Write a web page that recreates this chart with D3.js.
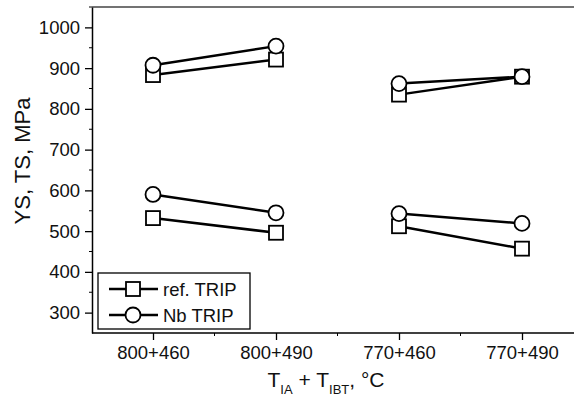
<!DOCTYPE html>
<html>
<head>
<meta charset="utf-8">
<script src="https://cdn.jsdelivr.net/npm/d3@7"></script>
<style>
  body { margin: 0; background: #fff; }
  svg { font-family: "Liberation Sans", Arial, sans-serif; }
</style>
</head>
<body>
<svg class="chart"></svg>
<script>
// data
const categories = ['800+460', '800+490', '770+460', '770+490'];
const refYS = [532, 496, 512, 457];
const refTS = [883, 921, 835, 879];
const nbYS = [590, 545, 543, 519];
const nbTS = [907, 954, 862, 879];
const yTicks = [300, 400, 500, 600, 700, 800, 900, 1000];
const yMinorTicks = [350, 450, 550, 650, 750, 850, 950, 1050];
// points are joined only inside these pairs
const pairs = [[0, 1], [2, 3]];

const svgWidth = 574;
const svgHeight = 397;
const margin = { top: 7, right: 0, bottom: 64, left: 92 };
const plotBottom = svgHeight - margin.bottom;

const svg = d3.select('.chart')
    .attr('width', svgWidth)
    .attr('height', svgHeight);

const xScale = d3.scalePoint()
    .domain(categories)
    .range([153, 522]);

const yScale = d3.scaleLinear()
    .domain([250, 1050])
    .range([plotBottom, margin.top]);

// frame: top and bottom run off the right edge, no right border
svg.append('line')
    .attr('x1', margin.left).attr('x2', svgWidth)
    .attr('y1', margin.top).attr('y2', margin.top)
    .attr('stroke', '#444').attr('stroke-width', 1.5);

// x axis
const xAxis = svg.append('g')
    .attr('transform', `translate(0, ${plotBottom})`)
    .call(d3.axisBottom(xScale).tickSizeInner(7).tickSizeOuter(0).tickPadding(6));
xAxis.select('.domain').attr('d', `M${margin.left},0H${svgWidth}`);

// minor x ticks halfway between categories
const step = xScale.step();
xAxis.selectAll('.minor')
    .data(categories.slice(0, -1))
    .join('line')
    .attr('class', 'minor')
    .attr('x1', d => xScale(d) + step / 2).attr('x2', d => xScale(d) + step / 2)
    .attr('y1', 0).attr('y2', 3)
    .attr('stroke', '#000');

// y axis
const yAxis = svg.append('g')
    .attr('transform', `translate(${margin.left}, 0)`)
    .call(d3.axisLeft(yScale).tickValues(yTicks).tickFormat(d3.format('d'))
        .tickSizeInner(7).tickSizeOuter(0).tickPadding(5));
yAxis.selectAll('.minor')
    .data(yMinorTicks)
    .join('line')
    .attr('class', 'minor')
    .attr('x1', 0).attr('x2', -3)
    .attr('y1', d => yScale(d)).attr('y2', d => yScale(d))
    .attr('stroke', '#000');

svg.selectAll('.domain').attr('stroke', '#000').attr('stroke-width', 1.5);
svg.selectAll('.tick line').attr('stroke', '#000').attr('stroke-width', 1.3);
svg.selectAll('.tick text').attr('font-size', 18.5).attr('fill', '#111')
    .attr('font-family', '"Liberation Sans", Arial, sans-serif');

// axis titles
svg.append('text')
    .attr('transform', 'translate(30, 161) rotate(-90)')
    .attr('text-anchor', 'middle')
    .attr('font-size', 22)
    .attr('fill', '#111')
    .text('YS, TS, MPa');

const xTitle = svg.append('text')
    .attr('x', 326)
    .attr('y', 387)
    .attr('text-anchor', 'middle')
    .attr('font-size', 21)
    .attr('fill', '#111');
xTitle.append('tspan').text('T');
xTitle.append('tspan').attr('font-size', 13).attr('dy', 7).text('IA');
xTitle.append('tspan').attr('dy', -7).text(' + T');
xTitle.append('tspan').attr('font-size', 13).attr('dy', 7).text('IBT');
xTitle.append('tspan').attr('dy', -7).text(', °C');

// series lines and markers
const series = [
    { name: 'ref. TRIP', shape: 'square', values: [refYS, refTS] },
    { name: 'Nb TRIP', shape: 'circle', values: [nbYS, nbTS] },
];

const line = d3.line()
    .x(d => xScale(d.cat))
    .y(d => yScale(d.val));

function drawMarker(g, shape, x, y) {
    if (shape === 'square') {
        g.append('rect')
            .attr('x', x - 7).attr('y', y - 7)
            .attr('width', 14).attr('height', 14)
            .attr('fill', '#fff').attr('stroke', '#000').attr('stroke-width', 1.8);
    } else {
        g.append('circle')
            .attr('cx', x).attr('cy', y).attr('r', 7.5)
            .attr('fill', '#fff').attr('stroke', '#000').attr('stroke-width', 1.8);
    }
}

const lineLayer = svg.append('g');
const markerLayer = svg.append('g');

series.forEach(s => {
    s.values.forEach(vals => {
        pairs.forEach(p => {
            const pts = p.map(i => ({ cat: categories[i], val: vals[i] }));
            lineLayer.append('path')
                .datum(pts)
                .attr('d', line)
                .attr('fill', 'none')
                .attr('stroke', '#000')
                .attr('stroke-width', 2.5);
        });
        vals.forEach((v, i) => drawMarker(markerLayer, s.shape, xScale(categories[i]), yScale(v)));
    });
});

// legend
const legend = svg.append('g');
legend.append('rect')
    .attr('x', 98).attr('y', 273)
    .attr('width', 152).attr('height', 56)
    .attr('fill', '#fff').attr('stroke', '#000').attr('stroke-width', 1.3);

series.forEach((s, i) => {
    const ly = 289 + i * 26;
    legend.append('line')
        .attr('x1', 109).attr('x2', 158)
        .attr('y1', ly).attr('y2', ly)
        .attr('stroke', '#000').attr('stroke-width', 2.5);
    drawMarker(legend, s.shape, 133, ly);
    legend.append('text')
        .attr('x', 163).attr('y', ly + 6.5)
        .attr('font-size', 18.5)
        .attr('fill', '#111')
        .text(s.name);
});
</script>
</body>
</html>
